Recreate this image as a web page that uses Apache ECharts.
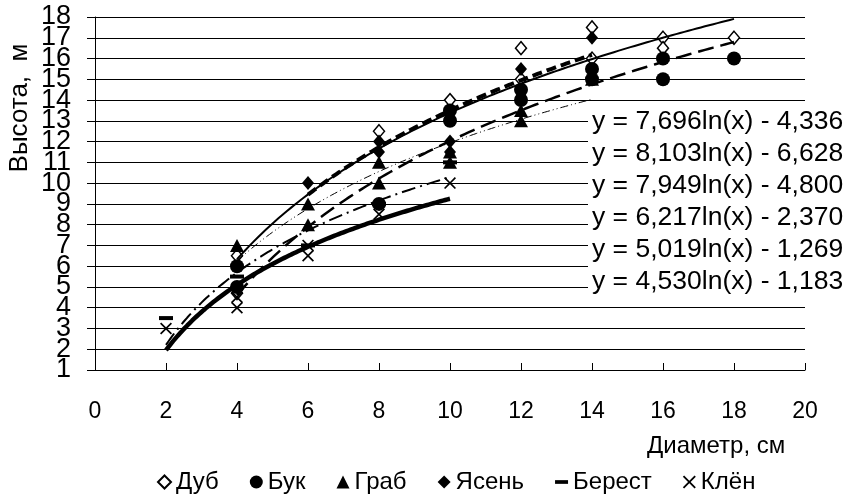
<!DOCTYPE html>
<html><head><meta charset="utf-8">
<script src="https://cdn.jsdelivr.net/npm/echarts@6/dist/echarts.min.js"></script>
<style>html,body{margin:0;padding:0;background:#fff}#c{width:851px;height:504px}</style>
</head><body><div id="c"></div>
<script>
// ---- data ----
const seriesNames = ['Дуб', 'Бук', 'Граб', 'Ясень', 'Берест', 'Клён'];
const dub    = [[4,6.5],[4,4.7],[8,12.5],[10,14],[12,16.5],[12,15],[14,17.5],[14,16],[16,17],[16,16.5],[18,17]];
const buk    = [[4,6],[4,5],[8,9],[10,13.5],[10,13],[12,14.5],[12,14],[14,15.5],[14,15],[16,16],[16,15],[18,16]];
const grab   = [[4,7],[6,9],[6,8],[8,11],[8,10],[10,11.5],[10,11],[12,13.5],[12,13],[14,15]];
const yasen  = [[6,10],[8,12],[8,11.5],[10,12],[10,11.5],[12,15.5],[14,17]];
const berest = [[2,3.5],[4,5.5],[6,7],[8,9],[10,11]];
const klen   = [[2,3],[4,4.5],[4,4],[6,7],[6,6.5],[8,8.5],[10,10]];
// logarithmic trendlines y = a*ln(x) + b (coefficients as printed on the chart)
const trendA    = [7.696, 8.103, 6.217, 7.949, 5.019, 4.530];
const trendB    = [-4.336, -6.628, -2.370, -4.800, -1.269, -1.183];
const trendFrom = [4, 4, 4, 6, 2, 2];
const trendTo   = [18, 18, 14, 14, 10, 10];
const eqLabels = [
  'y = 7,696ln(x) - 4,336',
  'y = 8,103ln(x) - 6,628',
  'y = 7,949ln(x) - 4,800',
  'y = 6,217ln(x) - 2,370',
  'y = 5,019ln(x) - 1,269',
  'y = 4,530ln(x) - 1,183'
];
const xTitle = 'Диаметр, см';
const yTitle = 'Высота,  м';

// ---- styles ----
const FONT = '"Liberation Sans", Arial, Helvetica, sans-serif';
const crossPath = 'path://M2,0L10,8L18,0L20,2L12,10L20,18L18,20L10,12L2,20L0,18L8,10L0,2Z';
const dashPath = 'path://M0,0H14V4H0Z';
const pointSets = [dub, buk, grab, yasen, berest, klen];
const markerDefs = [
  {symbol: 'diamond', size: [11, 13], itemStyle: {color: '#fff', borderColor: '#000', borderWidth: 1.5, opacity: 1}},
  {symbol: 'circle', size: 14, itemStyle: {color: '#000', opacity: 1}},
  {symbol: 'triangle', size: [14, 13], itemStyle: {color: '#000', opacity: 1}},
  {symbol: 'diamond', size: [12, 14], itemStyle: {color: '#000', opacity: 1}},
  {symbol: dashPath, size: [14, 4], itemStyle: {color: '#000', opacity: 1}},
  {symbol: crossPath, size: 12, itemStyle: {color: '#000', opacity: 1}}
];
const lineDefs = [
  {width: 2, type: 'solid'},
  {width: 2.5, type: [16, 7]},
  {width: 1, type: [8, 3, 1, 3, 1, 3]},
  {width: 4, type: [10, 5]},
  {width: 2, type: [14, 5, 2, 5]},
  {width: 4.5, type: 'solid'}
];

function trendPoints(i) {
  const pts = [];
  const n = 120;
  for (let k = 0; k <= n; k++) {
    const x = trendFrom[i] + (trendTo[i] - trendFrom[i]) * k / n;
    pts.push([x, trendA[i] * Math.log(x) + trendB[i]]);
  }
  return pts;
}

const series = [];
seriesNames.forEach((name, i) => {
  series.push({
    name: name, type: 'scatter', data: pointSets[i], yAxisIndex: 0,
    symbol: markerDefs[i].symbol, symbolSize: markerDefs[i].size,
    itemStyle: markerDefs[i].itemStyle, z: 2, silent: true
  });
});
seriesNames.forEach((name, i) => {
  series.push({
    name: name + ' trend', type: 'line', data: trendPoints(i), yAxisIndex: 0,
    showSymbol: false, symbol: 'none', smooth: false, silent: true, z: 3,
    lineStyle: {color: '#000', width: lineDefs[i].width, type: lineDefs[i].type}
  });
});

const chart = echarts.init(document.getElementById('c'), null, {renderer: 'canvas'});
const eqTop = 122, eqStep = 32;
const graphics = [
  {type: 'rect', left: 588, top: 108, shape: {width: 218, height: 190}, style: {fill: '#fff'}, z: 1, silent: true},
  {type: 'text', x: 20, y: 108, rotation: Math.PI / 2,
   style: {text: yTitle, font: '26px ' + FONT, fill: '#000', textAlign: 'center', textVerticalAlign: 'middle'}},
  {type: 'text', x: 647, y: 446,
   style: {text: xTitle, font: '24px ' + FONT, fill: '#000', textAlign: 'left', textVerticalAlign: 'middle'}}
];
eqLabels.forEach((t, k) => {
  graphics.push({type: 'text', x: 592, y: eqTop + eqStep * k, z: 4,
    style: {text: t, font: '26.5px ' + FONT, fill: '#000', textAlign: 'left', textVerticalAlign: 'middle'}});
});

// Y labels are split between two overlaid axes (odd / even values) so that the
// tightly packed, overlapping labels are all kept.
function yAxisDef(parity, main) {
  return {
    type: 'value', min: 1, max: 18, interval: 1, position: 'left',
    axisLine: {show: main, lineStyle: {color: '#000', width: 1}},
    axisTick: {show: main, inside: false, length: 8, lineStyle: {color: '#000'}},
    axisLabel: {color: '#000', margin: 24, fontFamily: FONT, fontSize: 27,
                formatter: v => (Math.round(v) % 2 === parity ? String(v) : ''),
                showMinLabel: true, showMaxLabel: true},
    splitLine: {show: main, lineStyle: {color: '#000', width: 1}}
  };
}

chart.setOption({
  animation: false,
  backgroundColor: '#fff',
  textStyle: {fontFamily: FONT, color: '#000'},
  grid: {left: 95, right: 46, top: 17, bottom: 134},
  xAxis: {
    type: 'value', min: 0, max: 20, interval: 2,
    axisLine: {show: true, lineStyle: {color: '#000', width: 1}},
    axisTick: {show: true, inside: true, length: 7, lineStyle: {color: '#000'}},
    axisLabel: {fontSize: 23, color: '#000', margin: 30, fontFamily: FONT, showMinLabel: true, showMaxLabel: true},
    splitLine: {show: false}
  },
  yAxis: [yAxisDef(1, true), yAxisDef(0, false)],
  legend: {
    data: seriesNames.map((n, i) => i === 4 ? {name: n, icon: dashPath} : {name: n}),
    bottom: 5, left: 152, itemGap: 31, itemWidth: 13, itemHeight: 13,
    textStyle: {fontSize: 24, color: '#000', fontFamily: FONT}
  },
  graphic: graphics,
  series: series
});
</script>
</body></html>
